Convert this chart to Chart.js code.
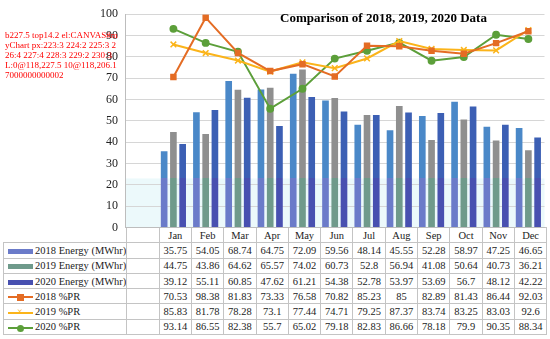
<!DOCTYPE html>
<html>
<head>
<meta charset="utf-8">
<script src="https://cdn.jsdelivr.net/npm/chart.js@4.4.1/dist/chart.umd.min.js"></script>
<style>
  body { margin: 0; background: #fff; font-family: "Liberation Serif", serif; }
  #wrap { position: relative; width: 550px; height: 339px; overflow: hidden; }
  #box { position: absolute; left: 0; top: 0; width: 550px; height: 339px; z-index: 2; }
  #title { position: absolute; left: 280px; top: 10px; font: bold 13px "Liberation Serif", serif; color: #000; white-space: nowrap; z-index: 3; }
  #tbl { position: absolute; left: 3px; top: 227px; border-collapse: collapse; table-layout: fixed; font-size: 10.5px; color: #222; z-index: 1; }
  #tbl td { border: 1px solid #c4c4c4; height: 14.3px; padding: 0; text-align: center; white-space: nowrap; overflow: hidden; }
  #tbl td.lab { text-align: left; padding-left: 4px; }
  .sw { display: inline-block; width: 25px; vertical-align: middle; margin-right: 2px; position: relative; height: 7px; }
  #dbg { position: absolute; left: 5px; top: 30px; width: 115px; font-size: 9px; color: red; z-index: 5; word-break: break-all; }
</style>
</head>
<body>
<div id="wrap">
  <div id="box"><canvas id="myChart"></canvas></div>
  <div id="title">Comparison of 2018, 2019, 2020 Data</div>
  <table id="tbl"></table>
  <div id="dbg"></div>
</div>
<script>
// first category is empty in the original chart
const months = ['', 'Jan', 'Feb', 'Mar', 'Apr', 'May', 'Jun', 'Jul', 'Aug', 'Sep', 'Oct', 'Nov', 'Dec'];
const energy2018 = [null, 35.75, 54.05, 68.74, 64.75, 72.09, 59.56, 48.14, 45.55, 52.28, 58.97, 47.25, 46.65];
const energy2019 = [null, 44.75, 43.86, 64.62, 65.57, 74.02, 60.73, 52.8, 56.94, 41.08, 50.64, 40.73, 36.21];
const energy2020 = [null, 39.12, 55.11, 60.85, 47.62, 61.21, 54.38, 52.78, 53.97, 53.69, 56.7, 48.12, 42.22];
const pr2018 = [null, 70.53, 98.38, 81.83, 73.33, 76.58, 70.82, 85.23, 85, 82.89, 81.43, 86.44, 92.03];
const pr2019 = [null, 85.83, 81.78, 78.28, 73.1, 77.44, 74.71, 79.25, 87.37, 83.74, 83.25, 83.03, 92.6];
const pr2020 = [null, 93.14, 86.55, 82.38, 55.7, 65.02, 79.18, 82.83, 86.66, 78.18, 79.9, 90.35, 88.34];
const yTicks = [0, 10, 20, 30, 40, 50, 60, 70, 80, 90, 100];

const tintLevel = 23;

function twoTone(upper, lower) {
  return function(c) {
    const chart = c.chart;
    const area = chart.chartArea;
    if (!area) return upper;
    const y = chart.scales.y.getPixelForValue(tintLevel);
    const t = Math.min(1, Math.max(0, (y - area.top) / (area.bottom - area.top)));
    const g = chart.ctx.createLinearGradient(0, area.top, 0, area.bottom);
    g.addColorStop(0, upper);
    g.addColorStop(t, upper);
    g.addColorStop(t, lower);
    g.addColorStop(1, lower);
    return g;
  };
}

const lowerBg = {
  id: 'lowerBg',
  beforeDraw(chart) {
    const a = chart.chartArea;
    const y = chart.scales.y.getPixelForValue(tintLevel);
    const ctx = chart.ctx;
    ctx.save();
    ctx.fillStyle = '#ecf9fb';
    ctx.fillRect(a.left, y, a.right - a.left, a.bottom - y);
    ctx.restore();
  }
};

const series = [
  { label: '2018 Energy (MWhr)', type: 'bar', data: energy2018, up: '#4a88c8', low: '#6b7bc9' },
  { label: '2019 Energy (MWhr)', type: 'bar', data: energy2019, up: '#8f8f8f', low: '#6f9a8b' },
  { label: '2020 Energy (MWhr)', type: 'bar', data: energy2020, up: '#3c5fb4', low: '#4850b0' },
  { label: '2018 %PR', type: 'line', data: pr2018, color: '#e46c24', style: 'rect', r: 3.5 },
  { label: '2019 %PR', type: 'line', data: pr2019, color: '#fbb41a', style: 'crossRot', r: 4 },
  { label: '2020 %PR', type: 'line', data: pr2020, color: '#5c9f3a', style: 'circle', r: 3.2 }
];

const datasets = series.map(function(s) {
  if (s.type === 'bar') {
    return {
      type: 'bar', label: s.label, data: s.data, order: 2,
      backgroundColor: twoTone(s.up, s.low),
      categoryPercentage: 0.86, barPercentage: 0.72
    };
  }
  return {
    type: 'line', label: s.label, data: s.data, order: 1,
    borderColor: s.color, backgroundColor: s.color, borderWidth: 2,
    pointStyle: s.style, pointRadius: s.r, pointBorderColor: s.color,
    pointBackgroundColor: s.color, pointBorderWidth: 1.5, tension: 0, spanGaps: false
  };
});

const ctx = document.getElementById('myChart').getContext('2d');
const myChart = new Chart(ctx, {
  data: { labels: months, datasets: datasets },
  plugins: [lowerBg],
  options: {
    responsive: true,
    maintainAspectRatio: false,
    animation: false,
    layout: { padding: { top: 2, right: 5, bottom: 100, left: 0 } },
    plugins: { legend: { display: false }, tooltip: { enabled: false } },
    scales: {
      x: {
        offset: true,
        ticks: { display: false },
        grid: { display: false, drawTicks: false },
        border: { display: true, color: '#bdbdbd' },
        afterFit: function(s) { s.height = 0; }
      },
      y: {
        min: 0, max: 100,
        afterBuildTicks: function(s) { s.ticks = yTicks.map(function(v) { return { value: v }; }); },
        ticks: { color: '#222', padding: 7, autoSkip: false, font: { family: 'Liberation Serif', size: 12 } },
        grid: { color: '#d6d6d6', drawTicks: false },
        border: { display: true, color: '#bdbdbd' },
        afterFit: function(s) { s.width = 125; }
      }
    }
  }
});

// put the plot bottom on the table's top edge
const pad = myChart.options.layout.padding;
pad.bottom = Math.max(0, pad.bottom + (myChart.chartArea.bottom - 227.5));
pad.top = Math.max(0, pad.top + (11.5 - myChart.chartArea.top));
myChart.update();

// data table under the plot, columns follow the category axis
const tbl = document.getElementById('tbl');
const colW = (545 - 125) / months.length;
let html = '<colgroup><col style="width:122px">';
months.forEach(function() { html += '<col style="width:' + colW.toFixed(2) + 'px">'; });
html += '</colgroup><tr><td style="border-top:none;border-left:none"></td>';
months.forEach(function(m) { html += '<td>' + m + '</td>'; });
html += '</tr>';
series.forEach(function(s) {
  let sw;
  if (s.type === 'bar') {
    sw = '<span class="sw" style="height:5px;background:' + s.low + '"></span>';
  } else {
    let mk = '';
    if (s.style === 'rect') mk = '<span style="position:absolute;left:9px;top:-0px;width:7px;height:7px;background:' + s.color + '"></span>';
    if (s.style === 'circle') mk = '<span style="position:absolute;left:9px;top:0px;width:7px;height:7px;border-radius:50%;background:' + s.color + '"></span>';
    if (s.style === 'crossRot') mk = '<span style="position:absolute;left:9px;top:-3px;font-size:10px;line-height:12px;color:' + s.color + '">&times;</span>';
    sw = '<span class="sw"><span style="position:absolute;left:0;top:2.5px;width:25px;height:2px;background:' + s.color + '"></span>' + mk + '</span>';
  }
  html += '<tr><td class="lab">' + sw + s.label + '</td>';
  s.data.forEach(function(v) { html += '<td>' + (v === null ? '' : v) + '</td>'; });
  html += '</tr>';
});
tbl.innerHTML = html;

// debug: dark pixels in canvas near the zero label, and per-row where
const img = ctx.getImageData(95, 215, 30, 25).data;
const rows = [];
for (let r = 0; r < 25; r++) {
  let n = 0;
  for (let c = 0; c < 30; c++) { if (img[(r * 30 + c) * 4 + 3] > 100) n++; }
  if (n) rows.push((215 + r) + ':' + n);
}
const ys = myChart.scales.y;
const el = document.elementFromPoint(113, 228);
document.getElementById('dbg').textContent = 'b' + myChart.chartArea.bottom.toFixed(1) + ' top' + ys.top.toFixed(1) + ' el:' + (el ? el.tagName + '#' + el.id : 'none') + ' px:' + rows.join(' ') + ' L:' + (ys._labelItems || []).slice(0, 2).map(function(i) { return i.label + '@' + i.options.translation.join(','); }).join(' ');
</script>
</body>
</html>
